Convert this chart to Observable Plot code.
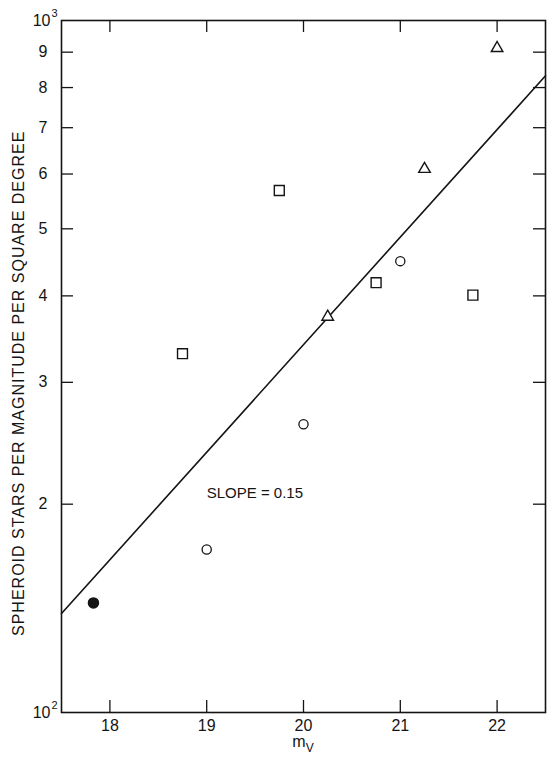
<!DOCTYPE html>
<html>
<head>
<meta charset="utf-8">
<script src="https://cdn.jsdelivr.net/npm/d3@7"></script>
<script src="https://cdn.jsdelivr.net/npm/@observablehq/plot@0.6"></script>
<style>
  body { margin: 0; background: #fff; }
  #chart svg { display: block; }
</style>
</head>
<body>
<div id="chart"></div>
<script>
// ---- data ----
const filledX = [17.83];
const filledY = [144];
const circleX = [19.0, 20.0, 21.0];
const circleY = [172, 261, 449];
const squareX = [18.75, 19.75, 20.75, 21.75];
const squareY = [330, 568, 418, 401];
const triangleX = [20.25, 21.25, 22.0];
const triangleY = [373, 610, 912];
const fitX = [17.5, 22.5];
const fitY = [139, 832];
const xTicks = [18, 19, 20, 21, 22];
const yMinorTicks = [200, 300, 400, 500, 600, 700, 800, 900];
const yMinorLabels = ["2", "3", "4", "5", "6", "7", "8", "9"];
const yMajorTicks = [100, 1000];
const yMajorBase = ["10", "10"];
const yMajorExp = ["2", "3"];
const slopeText = ["SLOPE = 0.15"];
const slopeX = [19.0];
const slopeY = [207.5];
const yTitle = "SPHEROID STARS PER MAGNITUDE PER SQUARE DEGREE";
const xTitleMain = "m";
const xTitleSub = "V";

// ---- layout ----
const W = 560, H = 761;
const mL = 61, mR = 15, mT = 20, mB = 49;
const pw = W - mL - mR, ph = H - mT - mB;
const tick = 12;
const ink = "#141414";
const font = "'Liberation Sans', Arial, Helvetica, sans-serif";

const zip = (xs, ys) => xs.map((x, i) => ({x, y: ys[i]}));
const fit = zip(fitX, fitY);
const filled = zip(filledX, filledY);
const circles = zip(circleX, circleY);
const squares = zip(squareX, squareY);
const triangles = zip(triangleX, triangleY);
const slope = slopeText.map((t, i) => ({t, x: slopeX[i], y: slopeY[i]}));

const plot = Plot.plot({
  width: W,
  height: H,
  marginLeft: mL,
  marginRight: mR,
  marginTop: mT,
  marginBottom: mB,
  style: {fontFamily: font, fontSize: "16px", color: ink, background: "#fff"},
  x: {type: "linear", domain: [17.5, 22.5], axis: null},
  y: {type: "log", domain: [100, 1000], axis: null},
  marks: [
    // inward ticks on all four sides
    Plot.tickY(yMinorTicks, {y: d => d, insetRight: pw - tick, stroke: ink, strokeWidth: 1.3}),
    Plot.tickY(yMinorTicks, {y: d => d, insetLeft: pw - tick, stroke: ink, strokeWidth: 1.3}),
    Plot.tickX(xTicks, {x: d => d, insetTop: ph - tick, stroke: ink, strokeWidth: 1.3}),
    Plot.tickX(xTicks, {x: d => d, insetBottom: ph - tick, stroke: ink, strokeWidth: 1.3}),
    // tick labels
    Plot.axisY(yMinorTicks, {anchor: "left", tickSize: 0, tickPadding: 14, label: null,
      tickFormat: d => yMinorLabels[yMinorTicks.indexOf(d)], fontSize: 16}),
    Plot.axisY(yMajorTicks, {anchor: "left", tickSize: 0, tickPadding: 11, label: null,
      tickFormat: d => yMajorBase[yMajorTicks.indexOf(d)], fontSize: 16}),
    Plot.axisY(yMajorTicks, {anchor: "left", tickSize: 0, tickPadding: 4, label: null, dy: -7,
      tickFormat: d => yMajorExp[yMajorTicks.indexOf(d)], fontSize: 11}),
    Plot.axisX(xTicks, {anchor: "bottom", tickSize: 0, tickPadding: 7, label: null, fontSize: 16}),
    // frame
    Plot.frame({stroke: ink, strokeWidth: 1.6}),
    // fitted line
    Plot.line(fit, {x: "x", y: "y", stroke: ink, strokeWidth: 1.6}),
    // points
    Plot.dot(filled, {x: "x", y: "y", r: 5, fill: ink, stroke: ink}),
    Plot.dot(circles, {x: "x", y: "y", r: 4.6, fill: "white", stroke: ink, strokeWidth: 1.3}),
    Plot.dot(squares, {x: "x", y: "y", symbol: "square", r: 5.6, fill: "white", stroke: ink, strokeWidth: 1.4}),
    Plot.dot(triangles, {x: "x", y: "y", symbol: "triangle", r: 4.3, fill: "white", stroke: ink, strokeWidth: 1.4}),
    // slope annotation
    Plot.text(slope, {x: "x", y: "y", text: "t", textAnchor: "start", fontSize: 15, fill: ink})
  ]
});

document.getElementById("chart").append(plot);

const svg = d3.select(plot);
const xs = plot.scale("x");

// y title, rotated
svg.append("text")
  .attr("transform", `translate(20,${mT + ph * 0.525}) rotate(-90)`)
  .attr("text-anchor", "middle")
  .attr("dominant-baseline", "middle")
  .attr("fill", ink)
  .style("font-family", font)
  .style("font-size", "16px")
  .style("letter-spacing", "1px")
  .text(yTitle);

// x-axis title with a real subscript
const t = svg.append("text")
  .attr("x", xs.apply(20))
  .attr("y", H - 14)
  .attr("text-anchor", "middle")
  .attr("fill", ink)
  .style("font-family", font)
  .style("font-size", "16px");
t.append("tspan").text(xTitleMain);
t.append("tspan").attr("dy", 5).style("font-size", "12px").text(xTitleSub);
</script>
</body>
</html>
